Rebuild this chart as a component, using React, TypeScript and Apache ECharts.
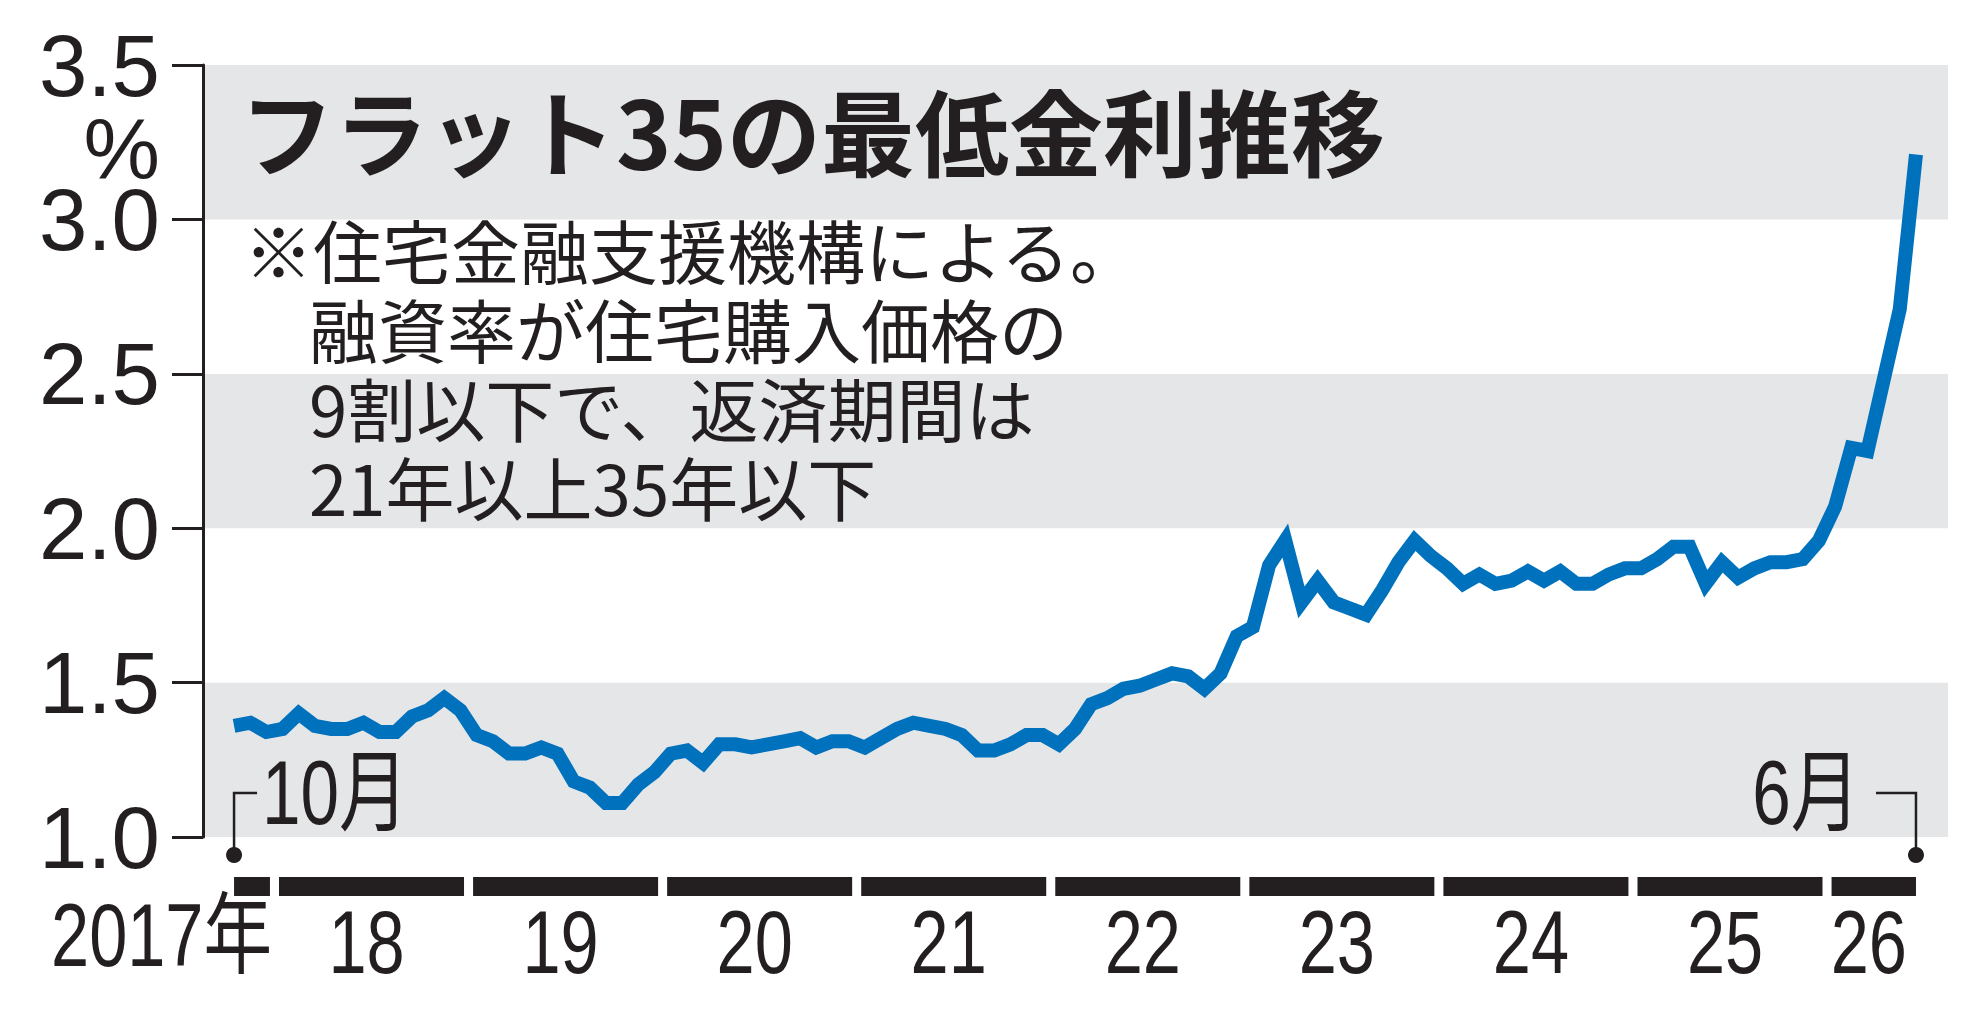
import React, { useEffect, useRef } from "react";
import * as echarts from "echarts";

// ---- data -------------------------------------------------------------
const yearLabels = ["2017年", "18", "19", "20", "21", "22", "23", "24", "25", "26"];
const rates2017 = [1.36, 1.37, 1.34]; // Oct–Dec
const rates2018 = [1.35, 1.4, 1.36, 1.35, 1.35, 1.37, 1.34, 1.34, 1.39, 1.41, 1.45, 1.41];
const rates2019 = [1.33, 1.31, 1.27, 1.27, 1.29, 1.27, 1.18, 1.16, 1.11, 1.11, 1.17, 1.21];
const rates2020 = [1.27, 1.28, 1.24, 1.3, 1.3, 1.29, 1.3, 1.31, 1.32, 1.29, 1.31, 1.31];
const rates2021 = [1.29, 1.32, 1.35, 1.37, 1.36, 1.35, 1.33, 1.28, 1.28, 1.3, 1.33, 1.33];
const rates2022 = [1.3, 1.35, 1.43, 1.45, 1.48, 1.49, 1.51, 1.53, 1.52, 1.48, 1.53, 1.65];
const rates2023 = [1.68, 1.88, 1.96, 1.76, 1.83, 1.76, 1.74, 1.72, 1.8, 1.89, 1.96, 1.91];
const rates2024 = [1.87, 1.82, 1.85, 1.82, 1.83, 1.86, 1.83, 1.86, 1.82, 1.82, 1.85, 1.87];
const rates2025 = [1.87, 1.9, 1.94, 1.94, 1.82, 1.89, 1.84, 1.87, 1.89, 1.89, 1.9, 1.96];
const rates2026 = [2.07, 2.26, 2.25, 2.48, 2.71, 3.21]; // Jan–Jun
const ratesByYear = [
  rates2017, rates2018, rates2019, rates2020, rates2021,
  rates2022, rates2023, rates2024, rates2025, rates2026,
];
const endLabels = ["10月", "6月"];
const titleText = "フラット35の最低金利推移";
const noteLines = [
  "※住宅金融支援機構による。",
  "融資率が住宅購入価格の",
  "9割以下で、返済期間は",
  "21年以上35年以下",
];
const Y_MIN = 1.0;
const Y_MAX = 3.5;
const Y_STEP = 0.5;

// ---- styles -----------------------------------------------------------
const INK = "#231f20";
const BAND = "#e5e6e8";
const BLUE = "#0071bc";
const FONT_NUM = "'Liberation Sans', Arial, 'Noto Sans CJK JP', sans-serif";
const FONT_JP = "'Noto Sans CJK JP', 'Noto Sans CJK SC', sans-serif";
const X_MIN = -1.92;
const X_MAX = 105.98;
const NARROW = 0.77;

export default function App() {
  const ref = useRef<HTMLDivElement>(null);

  useEffect(() => {
    if (!ref.current) return;
    const chart = echarts.init(ref.current, undefined, { renderer: "svg" });

    const linePoints: [number, number][] = [];
    const yearSpans: [number, number][] = [];
    let idx = 0;
    ratesByYear.forEach((arr) => {
      const first = idx;
      arr.forEach((v) => {
        linePoints.push([idx, v]);
        idx++;
      });
      yearSpans.push([first, idx - 1]);
    });
    const LAST = idx - 1;

    const option: any = {
      animation: false,
      backgroundColor: "#ffffff",
      grid: { left: 203, right: 36, top: 65, bottom: 179, containLabel: false },
      xAxis: {
        type: "value",
        min: X_MIN,
        max: X_MAX,
        show: false,
        splitLine: { show: false },
      },
      yAxis: {
        type: "value",
        min: Y_MIN,
        max: Y_MAX,
        interval: Y_STEP,
        axisLine: { show: true, onZero: false, lineStyle: { color: INK, width: 3 } },
        axisTick: { show: true, length: 31, lineStyle: { color: INK, width: 3 } },
        axisLabel: {
          margin: 43,
          fontSize: 87,
          fontFamily: FONT_NUM,
          color: INK,
          formatter: (v: number) => v.toFixed(1),
        },
        splitLine: { show: false },
        splitArea: { show: true, areaStyle: { color: [BAND, "#ffffff"] } },
      },
      series: [
        {
          type: "line",
          data: linePoints,
          showSymbol: false,
          symbol: "none",
          lineStyle: { color: BLUE, width: 14, cap: "butt", join: "miter" },
          z: 3,
        },
        {
          type: "custom",
          clip: false,
          z: 4,
          data: yearSpans,
          renderItem: (params: any, api: any) => {
            const k = params.dataIndex;
            const first = api.value(0);
            const last = api.value(1);
            const x0 = api.coord([Math.max(first - 0.22, 0), Y_MIN])[0];
            const x1 = api.coord([Math.min(last + 0.22, LAST), Y_MIN])[0];
            const yBase = api.coord([first, Y_MIN])[1];
            const isFirst = k === 0;
            return {
              type: "group",
              children: [
                {
                  type: "rect",
                  shape: { x: x0, y: yBase + 40, width: x1 - x0, height: 19 },
                  style: { fill: INK },
                },
                {
                  type: "text",
                  x: isFirst ? x1 + 2 : (x0 + x1) / 2 - 5,
                  y: yBase + (isFirst ? 98 : 105),
                  scaleX: NARROW,
                  style: {
                    text: yearLabels[k],
                    fontSize: 89,
                    fontFamily: FONT_NUM,
                    fill: INK,
                    align: isFirst ? "right" : "center",
                    textAlign: isFirst ? "right" : "center",
                    verticalAlign: "middle",
                    textVerticalAlign: "middle",
                  },
                },
              ],
            };
          },
        },
        {
          type: "custom",
          clip: false,
          z: 5,
          data: [
            [0, Y_MIN],
            [LAST, Y_MIN],
          ],
          renderItem: (params: any, api: any) => {
            const isStart = params.dataIndex === 0;
            const p = api.coord([api.value(0), Y_MIN]);
            const x = p[0];
            const y = p[1];
            const dotY = y + 18;
            const lineY = y - 44;
            const hx = isStart ? x + 23 : x - 40;
            return {
              type: "group",
              children: [
                {
                  type: "polyline",
                  shape: { points: [[x, dotY], [x, lineY], [hx, lineY]] },
                  style: { stroke: INK, lineWidth: 2.5, fill: null },
                },
                {
                  type: "circle",
                  shape: { cx: x, cy: dotY, r: 8 },
                  style: { fill: INK },
                },
                {
                  type: "text",
                  x: isStart ? x + 28 : x - 56,
                  y: lineY,
                  scaleX: NARROW,
                  style: {
                    text: endLabels[params.dataIndex],
                    fontSize: 90,
                    fontFamily: FONT_NUM,
                    fill: INK,
                    align: isStart ? "left" : "right",
                    textAlign: isStart ? "left" : "right",
                    verticalAlign: "middle",
                    textVerticalAlign: "middle",
                  },
                },
              ],
            };
          },
        },
      ],
      graphic: [
        {
          type: "text",
          x: 160,
          y: 149,
          z: 10,
          style: {
            text: "%",
            fontSize: 86,
            fontFamily: FONT_NUM,
            fill: INK,
            align: "right",
            textAlign: "right",
            verticalAlign: "middle",
            textVerticalAlign: "middle",
          },
        },
        {
          type: "text",
          x: 240,
          y: 129,
          z: 10,
          style: {
            text: titleText,
            fontSize: 94,
            fontWeight: "bold",
            fontFamily: FONT_JP,
            fill: INK,
            align: "left",
            textAlign: "left",
            verticalAlign: "middle",
            textVerticalAlign: "middle",
          },
        },
        ...noteLines.map((t, i) => ({
          type: "text",
          x: i === 0 ? 244 : 309,
          y: 249 + i * 79,
          z: 10,
          style: {
            text: t,
            fontSize: 69,
            fontFamily: FONT_JP,
            fill: INK,
            align: "left",
            textAlign: "left",
            verticalAlign: "middle",
            textVerticalAlign: "middle",
          },
        })),
      ],
    };

    chart.setOption(option);
    return () => chart.dispose();
  }, []);

  return (
    <div
      ref={ref}
      style={{
        position: "fixed",
        left: 0,
        top: 0,
        width: "1984px",
        height: "1016px",
        background: "#ffffff",
      }}
    />
  );
}
